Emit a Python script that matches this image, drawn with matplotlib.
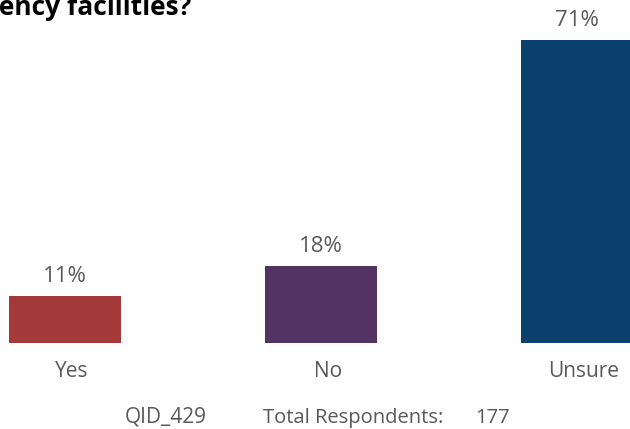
import matplotlib
matplotlib.use("Agg")
import matplotlib.pyplot as plt

categories = ["Yes", "No", "Unsure"]
values = [11, 18, 71]
labels = ["11%", "18%", "71%"]
colors = ["#A33939", "#533363", "#0C406C"]
title = "gency facilities?"
qid = "QID_429"
total_label = "Total Respondents:"
total_value = "177"

W, H = 630, 429
fig = plt.figure(figsize=(W/100, H/100), dpi=100)
base_px = 343
ax = fig.add_axes([0, (H-base_px)/H, 1, base_px/H])
spacing = 256.0
x0 = 65.0
ax.set_xlim(-x0/spacing, -x0/spacing + W/spacing)
px_per_unit = (base_px - 40) / 71.0
ax.set_ylim(0, base_px / px_per_unit)
xs = list(range(len(categories)))
ax.bar(xs, values, width=112/spacing, color=colors)
font = "Open Sans"
gray = "#595959"
for x, v, l in zip(xs, values, labels):
    ax.annotate(l, (x, v), xytext=(0, 10), textcoords="offset points",
                ha="center", va="baseline", fontsize=16, color=gray, family=font)
ax.axis("off")
for x, c in zip(xs, categories):
    fig.text((x0 + 7 + x*spacing)/W, 1 - 377/H, c, ha="center", va="baseline",
             fontsize=15, color=gray, family=font)
fig.text(165.5/W, 1 - 423/H, qid, ha="center", va="baseline", fontsize=15, color=gray, family=font)
fig.text(263/W, 1 - 423/H, total_label, ha="left", va="baseline", fontsize=14.5, color=gray, family=font)
fig.text(492/W, 1 - 423/H, total_value, ha="center", va="baseline", fontsize=14.5, color=gray, family=font)
fig.text(191/W, 1 - 15/H, title, ha="right", va="baseline", fontsize=19, fontweight="bold",
         color="black", family=font)
fig.savefig("out.png", dpi=100)
